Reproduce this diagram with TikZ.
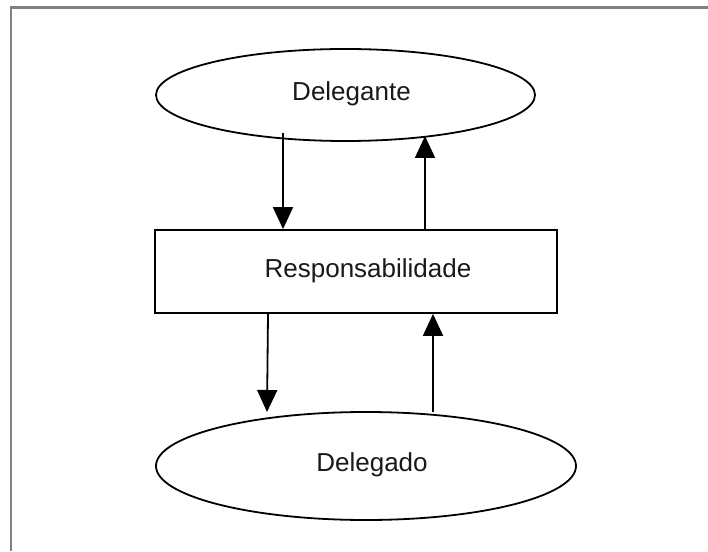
\documentclass[tikz,border=0pt]{standalone}
\usepackage{fontspec}
\setmainfont{Liberation Sans}
\usetikzlibrary{shapes.geometric,arrows.meta}
\begin{document}
\begin{tikzpicture}[x=1pt,y=1pt,
  oval/.style={draw, ellipse, line width=1.8pt, inner sep=0pt},
  box/.style={draw, rectangle, line width=1.8pt, inner sep=0pt},
  lbl/.style={font=\fontsize{26}{30}\selectfont, text=black!90},
  arr/.style={line width=1.8pt, -{Triangle[length=22pt,width=20pt]}},
  frame/.style={draw=black!50, line width=2.2pt}]
\useasboundingbox (0,0) rectangle (708,551);
\fill[white] (0,0) rectangle (708,551);
\draw[frame] (11,0) -- (11,543.5) -- (708,543.5);
\node[oval, minimum width=379pt, minimum height=92pt,
  label={[lbl, xshift=6pt, yshift=1pt]center:Delegante}] (delegante) at (345.5,456) {};
\node[box, minimum width=402pt, minimum height=83pt,
  label={[lbl, xshift=12pt, yshift=1pt]center:Responsabilidade}] (resp) at (356,279.5) {};
\node[oval, minimum width=420pt, minimum height=108pt,
  label={[lbl, xshift=6pt, yshift=1pt]center:Delegado}] (delegado) at (366,85) {};
\coordinate (s1) at (283,418);
\coordinate (t2) at (425,415);
\coordinate (t3) at (267,139);
\coordinate (s4) at (433,139);
\draw[arr] (s1) -- (s1 |- resp.north);
\draw[arr] (t2 |- resp.north) -- (t2);
\draw[arr] ([xshift=1pt]t3 |- resp.south) -- (t3);
\draw[arr] (s4) -- (s4 |- resp.south);
\end{tikzpicture}
\end{document}
